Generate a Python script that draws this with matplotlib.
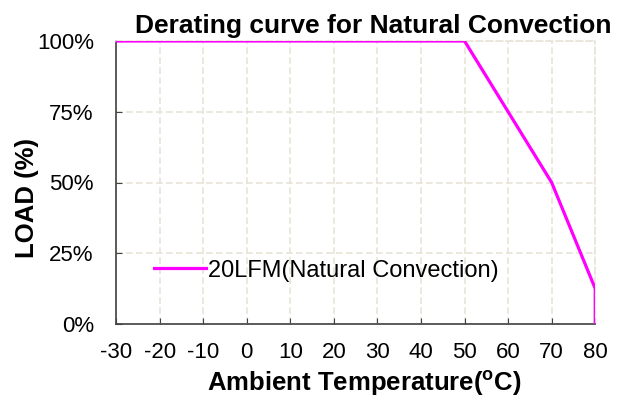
import matplotlib
matplotlib.use("Agg")
from matplotlib import pyplot as plt

plt.rcParams['font.family'] = ['Liberation Sans', 'DejaVu Sans']
plt.rcParams['axes.unicode_minus'] = False
plt.rcParams['mathtext.fontset'] = 'custom'
plt.rcParams['mathtext.rm'] = 'Liberation Sans'
plt.rcParams['mathtext.bf'] = 'Liberation Sans:bold'

temp = [-30, 50, 70, 80, 80]
load = [100, 100, 50, 12.5, 0]
xticks = [-30, -20, -10, 0, 10, 20, 30, 40, 50, 60, 70, 80]
yticks = [0, 25, 50, 75, 100]
ylabels = ["0%", "25%", "50%", "75%", "100%"]

fig = plt.figure(figsize=(6.33, 4), dpi=100)
ax = fig.add_axes([0.1833, 0.19, 0.757, 0.7075])

ax.plot(temp, load, color='#FF00FF', linewidth=2.3, solid_joinstyle='miter', zorder=3,
        label="20LFM(Natural Convection)")

ax.set_xlim(-30, 80)
ax.set_ylim(0, 100)
ax.set_xticks(xticks)
ax.set_yticks(yticks)
ax.set_yticklabels(ylabels)
ax.tick_params(axis='both', labelsize=16, direction='in', length=4, color='#404040')
ax.tick_params(axis='x', pad=13)
ax.tick_params(axis='y', pad=16)

ax.grid(True, color='#e8e4d8', linestyle=(0, (4, 2)), linewidth=1.2)
for s in ['top', 'right']:
    ax.spines[s].set_color('#e8e4d8')
    ax.spines[s].set_linestyle((0, (4, 2)))
    ax.spines[s].set_linewidth(1.2)
for s in ['left', 'bottom']:
    ax.spines[s].set_color('#404040')
    ax.spines[s].set_linewidth(1.2)

ax.set_xlabel(r"Ambient Temperature($\mathbf{^{o}}$C)", fontsize=18.5, fontweight='bold')
ax.xaxis.set_label_coords(0.519, -0.158)
ax.set_ylabel("LOAD (%)", fontsize=18.5, fontweight='bold')
ax.yaxis.set_label_coords(-0.16, 0.445)
ax.set_title("Derating curve for Natural Convection", fontsize=19, fontweight='bold',
             pad=6, x=0.537)

ax.legend(loc='lower left', bbox_to_anchor=(0.035, 0.075), frameon=False, fontsize=17,
          handlelength=2.2, handletextpad=0.1)

fig.savefig("out.png", dpi=100)
